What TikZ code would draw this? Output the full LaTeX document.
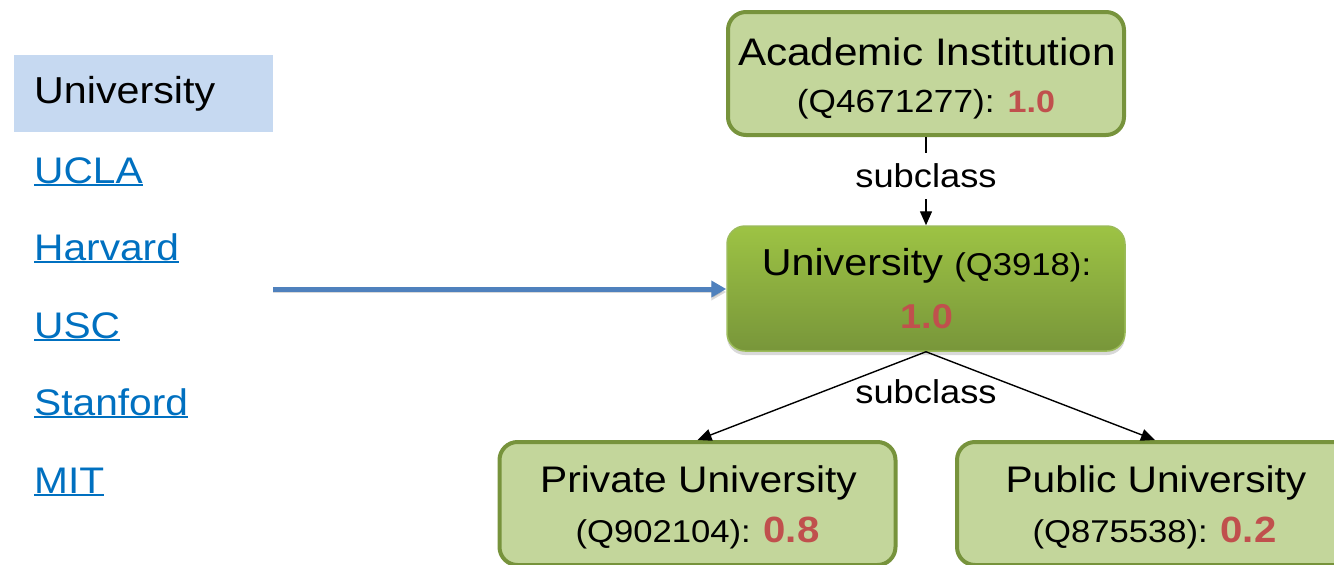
\documentclass[tikz,border=0pt]{standalone}
\usepackage{fontspec}
\setmainfont{Liberation Sans}[FakeStretch=1.1]
\usetikzlibrary{arrows.meta,shadows}

\definecolor{hdrblue}{HTML}{C6D9F1}
\definecolor{linkblue}{HTML}{0070C0}
\definecolor{leaf}{HTML}{C3D69B}
\definecolor{leafedge}{HTML}{77933C}
\definecolor{midtop}{HTML}{9DC344}
\definecolor{midbot}{HTML}{78963A}
\definecolor{midedge}{HTML}{9BBB59}
\definecolor{score}{HTML}{C0504D}
\definecolor{flow}{HTML}{4F81BD}

\newcommand\fs[1]{\fontsize{#1}{#1}\selectfont}

\begin{document}
\begin{tikzpicture}[x=1pt,y=1pt,
  txt/.style={inner sep=0pt, anchor=base},
  link/.style={inner sep=0pt, anchor=base west, text=linkblue, font=\fs{37}},
  ulline/.style={draw=linkblue, line width=1.6pt},
  classbox/.style={rounded corners=18pt, draw=leafedge, fill=leaf, line width=4pt,
    minimum width=396pt, minimum height=123pt, inner sep=0pt},
  mainbox/.style={rounded corners=18pt, draw=midedge, line width=1.5pt,
    top color=midtop, bottom color=midbot,
    minimum width=398pt, minimum height=125pt, inner sep=0pt,
    drop shadow={shadow xshift=0pt, shadow yshift=-4pt, opacity=0.3}},
  conn/.style={line width=1.4pt, -{Triangle[length=14pt,width=12pt]}},
  lbl/.style={fill=white, inner xsep=2pt, inner ysep=11pt, font=\fs{33}},
  flowarrow/.style={draw=flow, line width=5pt, -{Triangle[length=15pt,width=16pt]},
    preaction={draw=black, opacity=0.15, transform canvas={yshift=-3pt}}},
]
\useasboundingbox (0,0) rectangle (1334,-565);
\clip (0,0) rectangle (1334,-565);

% entity list on the left
\node[fill=hdrblue, minimum width=259pt, minimum height=77pt, inner sep=0pt,
      anchor=north west] (hdr) at (14,-55) {};
\node[txt, anchor=base west, font=\fs{37.5}] (hdrtxt) at (34,-103) {University};
\foreach \n/\t/\y in {l1/UCLA/183, l2/Harvard/260, l3/USC/338, l4/Stanford/415, l5/MIT/493}{
  \node[link] (\n) at (34,-\y) {\t};
  \draw[ulline] ([yshift=-2pt]\n.base west) -- ([yshift=-2pt]\n.base east);
}

% class hierarchy boxes
\node[classbox] (acad) at (926,-73.5) {};
\node[mainbox]  (univ) at (926,-288.5) {};
\node[classbox] (priv) at (697.5,-503.5) {};
\node[classbox] (pub)  at (1155,-503.5) {};

% box labels
\node[txt, font=\fs{38.4}] (acad1) at (927,-65) {Academic Institution};
\node[txt] (acad2) at (926,-112) {\fs{32}(Q4671277): \textcolor{score}{\fs{31}\bfseries 1.0}};

\node[txt] (univ1) at (926.5,-275) {\fs{37.5}University \fs{31.5}(Q3918):};
\node[txt, text=score, font=\fs{34.5}\bfseries] (univ2) at (926.5,-328) {1.0};

\node[txt, font=\fs{37}] (priv1) at (698.5,-492) {Private University};
\node[txt] (priv2) at (697.5,-542) {\fs{31.5}(Q902104): \textcolor{score}{\fs{36.5}\bfseries 0.8}};

\node[txt, font=\fs{37}] (pub1) at (1156,-492) {Public University};
\node[txt] (pub2) at (1154.5,-542) {\fs{31.5}(Q875538): \textcolor{score}{\fs{36.5}\bfseries 0.2}};

% connectors
\draw[conn] (acad.south) -- node[lbl, pos=0.443] (sub1) {subclass} (univ.north);
\draw[conn] (univ.south) -- (priv.north);
\draw[conn] (univ.south) -- (pub.north);
\node[txt, font=\fs{33}] (sub2) at (926,-403) {subclass};

% mapping arrow from the list to the class
\coordinate (src) at (273,-289);
\draw[flowarrow] (src) -- (src -| univ.west);
\end{tikzpicture}
\end{document}
